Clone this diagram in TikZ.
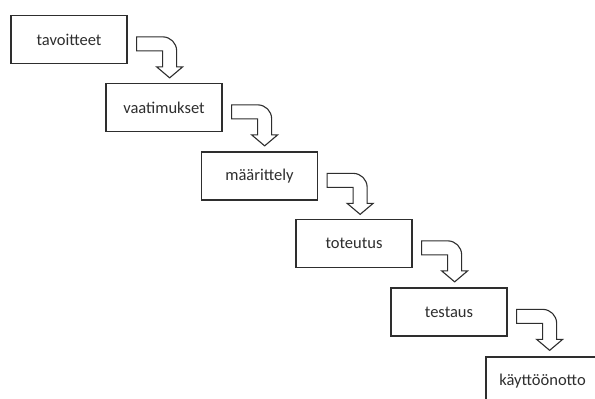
\documentclass[tikz,border=0pt]{standalone}
\usepackage{fontspec}
\setmainfont{Carlito}
\usetikzlibrary{calc}
\definecolor{inkc}{HTML}{2E2E2E}
\tikzset{
  stagebox/.style={draw=inkc, line width=1.3pt, minimum width=116pt, minimum height=48pt,
    inner sep=0pt, text=inkc, font=\fontsize{16.5}{20}\selectfont},
  blockarrow/.style={draw=inkc, line width=1.1pt, fill=white, line join=miter}
}
\newcommand{\turnarrow}[1]{%
  \begin{scope}[shift={(#1.north east)}]
    \draw[blockarrow] (9,22) -- (35,22) arc[start angle=-90, end angle=0, radius=14]
      -- (49,52) -- (55,52) -- (42,63) -- (29,52) -- (35,52) -- (35,36) -- (9,36) -- cycle;
  \end{scope}}
\begin{document}
\begin{tikzpicture}[x=1pt, y=-1pt]
  \clip (0,0) rectangle (595,399);
  \fill[white] (0,0) rectangle (595,399);
  \node[stagebox] (b1) at (69,39.5) {tavoitteet};
  \node[stagebox] (b2) at (164,107.5) {vaatimukset};
  \node[stagebox] (b3) at (259.5,176) {määrittely};
  \node[stagebox] (b4) at (354,243.5) {toteutus};
  \node[stagebox] (b5) at (449,312) {testaus};
  \node[stagebox, minimum width=113pt] (b6) at (542.5,381) {käyttöönotto};
  \turnarrow{b1}
  \turnarrow{b2}
  \turnarrow{b3}
  \turnarrow{b4}
  \turnarrow{b5}
\end{tikzpicture}
\end{document}
